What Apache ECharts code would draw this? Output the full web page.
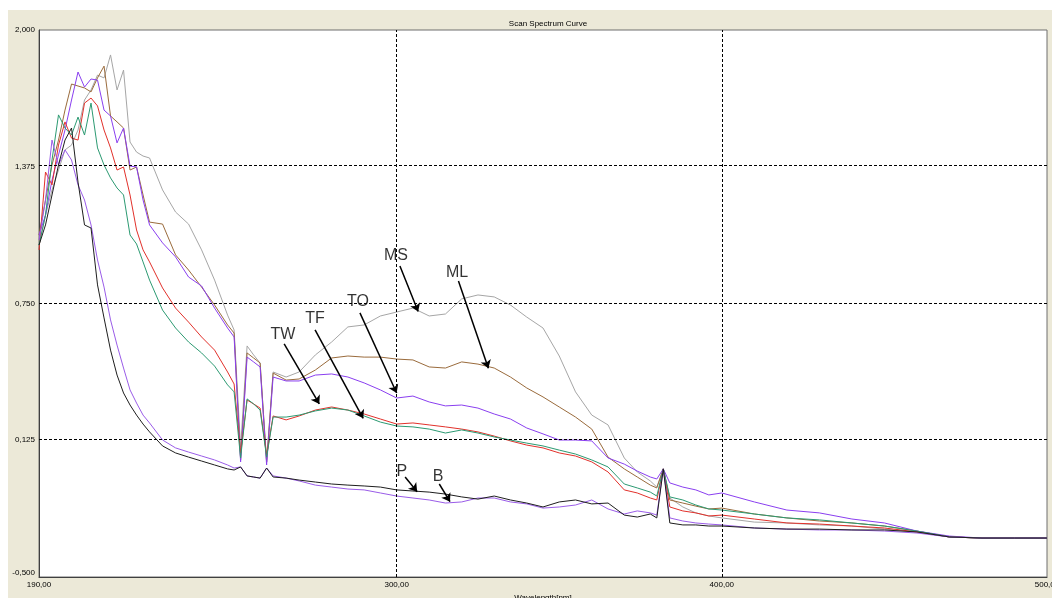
<!DOCTYPE html>
<html>
<head>
<meta charset="utf-8">
<title>Scan Spectrum Curve</title>
<script src="https://cdn.jsdelivr.net/npm/echarts@6/dist/echarts.min.js"></script>
<style>
    html, body { margin: 0; padding: 0; background: #fff; }
    #chart { position: absolute; left: 8px; top: 10px; width: 1044px; height: 588px; background: #ece9d8; }
</style>
</head>
<body>
<div id="chart"></div>
<script>
// wavelength samples (nm), shared by every curve
var wavelengths = [190, 192, 194, 196, 198, 200, 202, 204, 206, 208, 210, 212, 214, 216, 218, 220, 222, 224,
    228, 232, 236, 240, 244, 248, 250, 252, 254, 256, 258, 260, 262, 266, 270, 275, 280, 285, 290, 295, 300,
    305, 310, 315, 320, 325, 330, 335, 340, 345, 350, 355, 360, 365, 370, 374, 378, 380, 382, 384, 388, 392,
    396, 400, 410, 420, 430, 440, 450, 460, 470, 480, 490, 500];

// absorbance
var ms = [1.017, 1.154, 1.269, 1.360, 1.452, 1.474, 1.543, 1.680, 1.726, 1.794, 1.781, 1.886, 1.726, 1.817,
    1.488, 1.442, 1.424, 1.415, 1.269, 1.168, 1.113, 0.995, 0.857, 0.697, 0.629, 0.094, 0.556, 0.515, 0.478,
    0.026, 0.437, 0.414, 0.437, 0.515, 0.574, 0.643, 0.652, 0.693, 0.711, 0.729, 0.693, 0.702, 0.771, 0.789,
    0.780, 0.743, 0.688, 0.638, 0.510, 0.346, 0.240, 0.195, 0.044, -0.020, -0.061, -0.089, -0.006, -0.139,
    -0.180, -0.207, -0.221, -0.230, -0.249, -0.253, -0.262, -0.267, -0.281, -0.294, -0.317, -0.322, -0.322, -0.322];
var ml = [1.063, 1.223, 1.383, 1.497, 1.634, 1.753, 1.744, 1.735, 1.717, 1.781, 1.835, 1.607, 1.580, 1.552,
    1.360, 1.374, 1.246, 1.122, 1.113, 0.972, 0.903, 0.825, 0.743, 0.652, 0.615, 0.035, 0.524, 0.501, 0.478,
    0.026, 0.432, 0.400, 0.405, 0.446, 0.501, 0.510, 0.505, 0.505, 0.496, 0.492, 0.460, 0.455, 0.483, 0.473,
    0.455, 0.414, 0.364, 0.323, 0.277, 0.231, 0.176, 0.048, -0.006, -0.043, -0.080, -0.093, -0.006, -0.148,
    -0.162, -0.176, -0.189, -0.185, -0.212, -0.230, -0.244, -0.253, -0.267, -0.290, -0.317, -0.322, -0.322, -0.322];
var to = [1.063, 1.154, 1.314, 1.429, 1.543, 1.680, 1.808, 1.739, 1.776, 1.771, 1.634, 1.607, 1.484, 1.552,
    1.378, 1.374, 1.223, 1.109, 1.027, 0.963, 0.871, 0.830, 0.729, 0.638, 0.597, 0.026, 0.505, 0.483, 0.460,
    0.012, 0.414, 0.396, 0.396, 0.423, 0.428, 0.414, 0.387, 0.355, 0.318, 0.327, 0.300, 0.282, 0.286, 0.272,
    0.245, 0.222, 0.181, 0.154, 0.126, 0.126, 0.122, 0.044, 0.016, -0.016, -0.043, -0.052, -0.006, -0.070,
    -0.089, -0.102, -0.125, -0.116, -0.157, -0.194, -0.207, -0.235, -0.253, -0.290, -0.313, -0.322, -0.322, -0.322];
var tf = [0.995, 1.351, 1.292, 1.474, 1.580, 1.506, 1.497, 1.666, 1.689, 1.653, 1.543, 1.461, 1.360, 1.374,
    1.246, 1.086, 0.995, 0.940, 0.821, 0.729, 0.665, 0.597, 0.537, 0.437, 0.382, 0.067, 0.309, 0.291, 0.272,
    0.058, 0.236, 0.218, 0.236, 0.263, 0.277, 0.263, 0.245, 0.222, 0.199, 0.204, 0.195, 0.186, 0.176, 0.163,
    0.144, 0.122, 0.103, 0.090, 0.067, 0.053, 0.026, -0.020, -0.102, -0.116, -0.139, -0.148, -0.006, -0.180,
    -0.198, -0.207, -0.221, -0.217, -0.235, -0.253, -0.258, -0.267, -0.276, -0.294, -0.317, -0.322, -0.322, -0.322];
var tw = [1.017, 1.154, 1.406, 1.612, 1.552, 1.520, 1.602, 1.520, 1.666, 1.461, 1.383, 1.324, 1.278, 1.246,
    1.063, 1.022, 0.940, 0.857, 0.720, 0.638, 0.574, 0.524, 0.464, 0.378, 0.346, 0.044, 0.314, 0.291, 0.263,
    0.048, 0.231, 0.231, 0.240, 0.259, 0.272, 0.263, 0.236, 0.208, 0.190, 0.186, 0.176, 0.158, 0.172, 0.158,
    0.140, 0.126, 0.112, 0.099, 0.080, 0.062, 0.035, 0.003, -0.075, -0.093, -0.112, -0.130, -0.006, -0.134,
    -0.148, -0.171, -0.189, -0.194, -0.212, -0.230, -0.239, -0.253, -0.267, -0.290, -0.317, -0.322, -0.322, -0.322];
var p = [1.017, 1.109, 1.246, 1.383, 1.497, 1.552, 1.305, 1.109, 1.095, 0.835, 0.684, 0.537, 0.423, 0.341,
    0.286, 0.240, 0.199, 0.163, 0.099, 0.067, 0.048, 0.030, 0.012, -0.006, -0.011, 0.003, -0.038, -0.043,
    -0.048, -0.002, -0.043, -0.048, -0.057, -0.066, -0.075, -0.080, -0.084, -0.089, -0.102, -0.107, -0.112,
    -0.121, -0.134, -0.144, -0.130, -0.148, -0.162, -0.180, -0.157, -0.148, -0.166, -0.162, -0.217, -0.226,
    -0.212, -0.230, -0.006, -0.253, -0.262, -0.262, -0.267, -0.267, -0.276, -0.281, -0.281, -0.285, -0.285,
    -0.294, -0.317, -0.322, -0.322, -0.322];
var b = [1.040, 1.223, 1.497, 1.383, 1.452, 1.406, 1.292, 1.223, 1.109, 0.949, 0.825, 0.675, 0.560, 0.455,
    0.355, 0.295, 0.240, 0.204, 0.126, 0.090, 0.071, 0.053, 0.035, 0.012, -0.002, 0.003, -0.038, -0.043,
    -0.048, -0.002, -0.038, -0.048, -0.061, -0.080, -0.089, -0.098, -0.102, -0.116, -0.130, -0.139, -0.148,
    -0.162, -0.157, -0.139, -0.139, -0.157, -0.166, -0.185, -0.180, -0.171, -0.148, -0.189, -0.212, -0.198,
    -0.207, -0.217, -0.006, -0.230, -0.244, -0.253, -0.258, -0.262, -0.276, -0.281, -0.285, -0.285, -0.290,
    -0.299, -0.317, -0.322, -0.322, -0.322];

// ticks and dashed grid lines
var xTicks = [190, 300, 400, 500];
var yTicks = [-0.5, 0.125, 0.75, 1.375, 2];
var xGrid = [300, 400];
var yGrid = [0.125, 0.75, 1.375];

// hand-written callouts: name, text anchor, arrow start, arrow tip (data coords)
var noteNames = ['MS', 'ML', 'TO', 'TF', 'TW', 'P', 'B'];
var noteText = [[299.8, 0.971], [318.6, 0.889], [288.1, 0.757], [274.9, 0.679], [265.0, 0.610], [301.6, -0.016], [312.7, -0.039]];
var noteFrom = [[301.0, 0.921], [319.0, 0.853], [288.7, 0.707], [274.9, 0.629], [265.4, 0.565], [302.6, -0.043], [313.1, -0.075]];
var noteTo = [[306.6, 0.713], [328.2, 0.454], [300.0, 0.341], [289.7, 0.225], [276.2, 0.291], [306.3, -0.110], [316.4, -0.156]];

var curves = [
    {name: 'MS', values: ms, color: '#a6a6a6'},
    {name: 'ML', values: ml, color: '#9a6b3c'},
    {name: 'TO', values: to, color: '#8a3ff0'},
    {name: 'TF', values: tf, color: '#e2312b'},
    {name: 'TW', values: tw, color: '#2c9a72'},
    {name: 'B', values: b, color: '#9a5ce8'},
    {name: 'P', values: p, color: '#1e1e1e'}
];

var smallFont = {fontFamily: 'Liberation Sans', fontSize: 8, color: '#000'};

function comma(v, digits) {
    return v.toFixed(digits).replace('.', ',');
}

var series = curves.map(function (c) {
    return {
        name: c.name,
        type: 'line',
        symbol: 'none',
        lineStyle: {color: c.color, width: 1},
        data: wavelengths.map(function (w, i) {
            return [w, c.values[i]];
        })
    };
});

// dashed grid lines through the inner ticks
series[0].markLine = {
    silent: true,
    symbol: ['none', 'none'],
    label: {show: false},
    lineStyle: {color: '#000', width: 1, type: [3, 2]},
    data: xGrid.map(function (v) { return {xAxis: v}; })
        .concat(yGrid.map(function (v) { return {yAxis: v}; }))
};

// callout labels and arrows
series.push({
    name: 'notes',
    type: 'scatter',
    symbolSize: 1,
    itemStyle: {color: 'rgba(0,0,0,0)'},
    silent: true,
    z: 5,
    label: {
        show: true,
        position: 'inside',
        formatter: function (d) { return d.name; },
        fontFamily: 'Liberation Sans',
        fontSize: 16,
        color: '#000'
    },
    data: noteNames.map(function (n, i) {
        return {name: n, value: noteText[i]};
    }),
    markLine: {
        silent: true,
        symbol: ['none', 'arrow'],
        symbolSize: 8,
        label: {show: false},
        lineStyle: {color: '#000', width: 1.5, type: 'solid'},
        data: noteNames.map(function (n, i) {
            return [{coord: noteFrom[i]}, {coord: noteTo[i]}];
        })
    }
});

var chart = echarts.init(document.getElementById('chart'));
chart.setOption({
    animation: false,
    title: {
        text: 'Scan Spectrum Curve',
        left: 535,
        top: 5,
        textAlign: 'center',
        textStyle: {fontFamily: 'Liberation Sans', fontSize: 8, fontWeight: 'normal', color: '#000'}
    },
    grid: {
        left: 31,
        top: 20,
        right: 5,
        bottom: 21,
        containLabel: false,
        outerBoundsMode: 'none',
        show: true,
        backgroundColor: '#fff',
        borderColor: '#6e6e6e',
        borderWidth: 1
    },
    xAxis: {
        type: 'value',
        min: 190,
        max: 500,
        name: 'Wavelength[nm]',
        nameLocation: 'middle',
        nameGap: 15,
        nameTextStyle: smallFont,
        axisLine: {onZero: false, lineStyle: {color: '#404040'}},
        axisTick: {show: false},
        splitLine: {show: false},
        axisLabel: Object.assign({
            customValues: xTicks,
            margin: 4,
            formatter: function (v) { return comma(v, 2); }
        }, smallFont)
    },
    yAxis: {
        type: 'value',
        min: -0.5,
        max: 2,
        axisLine: {show: true, onZero: false, lineStyle: {color: '#404040'}},
        axisTick: {show: false},
        splitLine: {show: false},
        axisLabel: Object.assign({
            customValues: yTicks,
            margin: 4,
            formatter: function (v) {
                // the lowest label sits a little above the axis line
                return v === yTicks[0] ? '{lo|' + comma(v, 3) + '}' : comma(v, 3);
            },
            rich: {
                lo: {fontFamily: 'Liberation Sans', fontSize: 8, color: '#000', padding: [0, 0, 8, 0]}
            }
        }, smallFont)
    },
    series: series
});
</script>
</body>
</html>
